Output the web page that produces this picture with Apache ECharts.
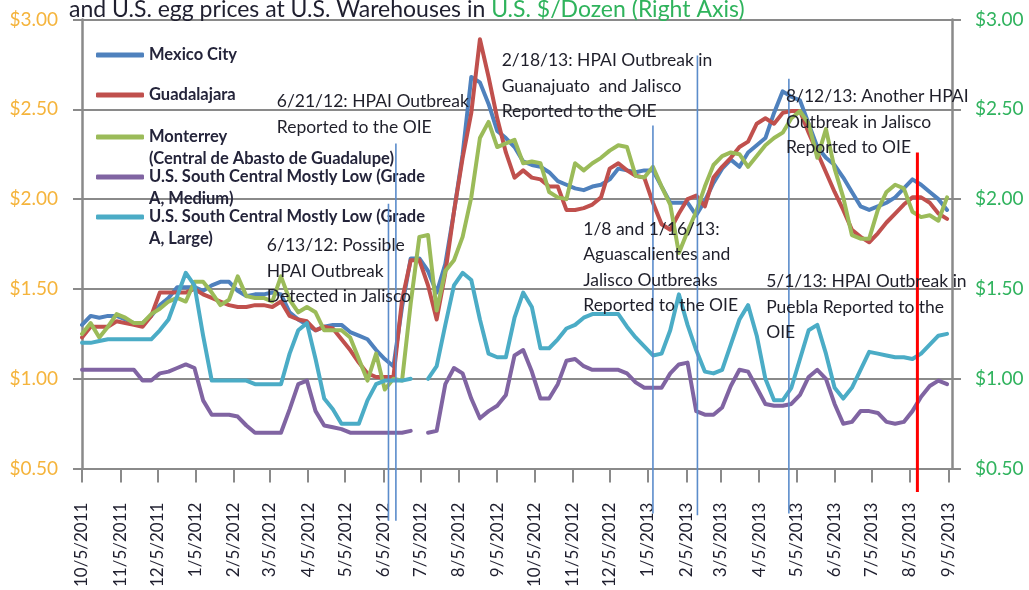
<!DOCTYPE html>
<html>
<head>
<meta charset="utf-8">
<script src="https://cdn.jsdelivr.net/npm/echarts@6/dist/echarts.min.js"></script>
<style>
  html, body { margin: 0; padding: 0; background: #fff; }
  #chart { width: 1029px; height: 590px; }
</style>
</head>
<body>
<div id="chart"></div>
<script>
'use strict';

// weekly observations, first one on 10/5/2011
const startDate = '10/5/2011';
const weekCount = 101;

const tickLabels = ['10/5/2011', '11/5/2011', '12/5/2011', '1/5/2012', '2/5/2012', '3/5/2012',
    '4/5/2012', '5/5/2012', '6/5/2012', '7/5/2012', '8/5/2012', '9/5/2012', '10/5/2012',
    '11/5/2012', '12/5/2012', '1/5/2013', '2/5/2013', '3/5/2013', '4/5/2013', '5/5/2013',
    '6/5/2013', '7/5/2013', '8/5/2013', '9/5/2013'];

const seriesNames = ['Mexico City', 'Guadalajara', 'Monterrey (Central de Abasto de Guadalupe)',
    'U.S. South Central Mostly Low (Grade A, Medium)', 'U.S. South Central Mostly Low (Grade A, Large)'];

const mexicoCity = [
    1.30, 1.35, 1.34, 1.35, 1.35, 1.33, 1.31, 1.31, 1.35, 1.41,
    1.45, 1.51, 1.51, 1.51, 1.49, 1.52, 1.54, 1.54, 1.49, 1.46,
    1.47, 1.47, 1.48, 1.47, 1.37, 1.33, 1.30, 1.27, 1.29, 1.30,
    1.30, 1.26, 1.24, 1.22, 1.16, 1.11, 1.07, 1.40, 1.67, 1.67,
    1.60, 1.48, 1.64, 1.93, 2.25, 2.68, 2.65, 2.53, 2.38, 2.34,
    2.29, 2.21, 2.19, 2.18, 2.15, 2.10, 2.08, 2.06, 2.05, 2.07,
    2.08, 2.11, 2.17, 2.16, 2.15, 2.16, 2.16, 2.07, 1.98, 1.98,
    1.98, 1.91, 1.99, 2.09, 2.17, 2.22, 2.18, 2.26, 2.30, 2.34,
    2.48, 2.60, 2.57, 2.55, 2.42, 2.29, 2.23, 2.19, 2.12, 2.04,
    1.96, 1.94, 1.96, 1.98, 2.01, 2.06, 2.11, 2.08, 2.04, 2.00, 1.94];

const guadalajara = [
    1.23, 1.29, 1.29, 1.29, 1.32, 1.31, 1.30, 1.29, 1.35, 1.48,
    1.48, 1.48, 1.48, 1.50, 1.47, 1.45, 1.43, 1.41, 1.40, 1.40,
    1.41, 1.41, 1.40, 1.43, 1.35, 1.33, 1.32, 1.27, 1.29, 1.28,
    1.22, 1.16, 1.09, 1.03, 1.01, 1.01, 1.01, 1.44, 1.66, 1.66,
    1.52, 1.33, 1.59, 1.93, 2.23, 2.48, 2.89, 2.68, 2.45, 2.26,
    2.12, 2.16, 2.12, 2.11, 2.07, 2.07, 1.94, 1.94, 1.95, 1.97,
    2.01, 2.17, 2.20, 2.16, 2.13, 2.12, 1.98, 1.86, 1.83, 1.92,
    2.00, 2.02, 1.96, 2.12, 2.18, 2.23, 2.29, 2.32, 2.42, 2.45,
    2.42, 2.48, 2.49, 2.49, 2.37, 2.26, 2.15, 2.04, 1.94, 1.83,
    1.79, 1.76, 1.81, 1.87, 1.92, 1.97, 2.01, 2.01, 1.98, 1.92, 1.89];

const monterrey = [
    1.25, 1.31, 1.23, 1.29, 1.36, 1.34, 1.31, 1.31, 1.36, 1.39,
    1.43, 1.45, 1.43, 1.54, 1.54, 1.48, 1.41, 1.44, 1.57, 1.46,
    1.45, 1.45, 1.43, 1.57, 1.44, 1.37, 1.40, 1.37, 1.27, 1.27,
    1.27, 1.23, 1.11, 0.99, 1.14, 0.94, 1.00, 0.99, 1.42, 1.79,
    1.80, 1.38, 1.60, 1.66, 1.79, 2.01, 2.34, 2.43, 2.29, 2.31,
    2.33, 2.20, 2.21, 2.20, 2.04, 2.01, 2.00, 2.20, 2.16, 2.20,
    2.23, 2.27, 2.30, 2.29, 2.13, 2.12, 2.18, 2.07, 1.97, 1.70,
    1.82, 1.93, 2.07, 2.19, 2.24, 2.26, 2.25, 2.18, 2.24, 2.30,
    2.34, 2.37, 2.45, 2.49, 2.42, 2.23, 2.39, 2.17, 2.01, 1.80,
    1.78, 1.78, 1.94, 2.04, 2.08, 2.06, 1.93, 1.90, 1.91, 1.88, 2.01];

const usMedium = [
    1.05, 1.05, 1.05, 1.05, 1.05, 1.05, 1.05, 0.99, 0.99, 1.03,
    1.04, 1.06, 1.08, 1.06, 0.88, 0.80, 0.80, 0.80, 0.79, 0.74,
    0.70, 0.70, 0.70, 0.70, 0.83, 0.97, 0.99, 0.82, 0.74, 0.73,
    0.72, 0.70, 0.70, 0.70, 0.70, 0.70, 0.70, 0.70, 0.71, null,
    0.70, 0.71, 0.97, 1.06, 1.03, 0.89, 0.78, 0.82, 0.85, 0.91,
    1.13, 1.16, 1.04, 0.89, 0.89, 0.97, 1.10, 1.11, 1.07, 1.05,
    1.05, 1.05, 1.05, 1.03, 0.98, 0.95, 0.95, 0.95, 1.03, 1.08,
    1.09, 0.82, 0.80, 0.80, 0.84, 0.96, 1.05, 1.04, 0.95, 0.86,
    0.85, 0.85, 0.86, 0.91, 1.01, 1.05, 1.00, 0.86, 0.75, 0.76,
    0.82, 0.82, 0.81, 0.76, 0.75, 0.76, 0.82, 0.90, 0.96, 0.99, 0.97];

const usLarge = [
    1.20, 1.20, 1.21, 1.22, 1.22, 1.22, 1.22, 1.22, 1.22, 1.27,
    1.33, 1.46, 1.59, 1.52, 1.24, 0.99, 0.99, 0.99, 0.99, 0.99,
    0.97, 0.97, 0.97, 0.97, 1.14, 1.27, 1.31, 1.11, 0.89, 0.83,
    0.75, 0.75, 0.75, 0.88, 0.97, 0.99, 0.99, 0.99, 1.00, null,
    1.00, 1.07, 1.30, 1.52, 1.59, 1.55, 1.33, 1.14, 1.12, 1.12,
    1.34, 1.48, 1.40, 1.17, 1.17, 1.22, 1.28, 1.30, 1.34, 1.36,
    1.36, 1.36, 1.36, 1.29, 1.23, 1.18, 1.13, 1.14, 1.27, 1.47,
    1.30, 1.16, 1.04, 1.03, 1.05, 1.19, 1.33, 1.41, 1.24, 1.00,
    0.88, 0.88, 0.95, 1.11, 1.27, 1.30, 1.14, 0.95, 0.89, 0.95,
    1.05, 1.15, 1.14, 1.13, 1.12, 1.12, 1.11, 1.14, 1.19, 1.24, 1.25];

// hand drawn outbreak markers: date, top and bottom value
const noteLineDates = ['6/9/2012', '6/15/2012', '1/9/2013', '2/14/2013', '4/29/2013', '8/11/2013'];
const noteLineTops = [1.975, 2.31, 2.41, 2.80, 2.67, 2.26];
const noteLineBottoms = [0.21, 0.21, 0.25, 0.24, 0.25, 0.37];

// callout texts, anchored at their top-left corner
const noteTexts = [
    ['6/21/12: HPAI Outbreak', 'Reported to the OIE'],
    ['6/13/12: Possible', 'HPAI Outbreak', 'Detected in Jalisco'],
    ['2/18/13: HPAI Outbreak in', 'Guanajuato  and Jalisco', 'Reported to the OIE'],
    ['1/8 and 1/16/13:', 'Aguascalientes and', 'Jalisco Outbreaks', 'Reported to the OIE'],
    ['8/12/13: Another HPAI', 'Outbreak in Jalisco', 'Reported to OIE'],
    ['5/1/13: HPAI Outbreak in', 'Puebla Reported to the', 'OIE']
];
const noteDates = ['3/11/2012', '3/3/2012', '9/9/2012', '11/14/2012', '4/27/2013', '4/11/2013'];
const noteValues = [2.61, 1.81, 2.84, 1.90, 2.64, 1.61];

const FONT = 'Lato';
const colors = ['#4f81bd', '#c0504d', '#9bbb59', '#8064a2', '#4bacc6'];

const toTime = (s) => {
    const p = s.split('/').map(Number);
    return new Date(p[2], p[0] - 1, p[1]).getTime();
};
const fmtDate = (t) => {
    const d = new Date(Math.round(t));
    return `${d.getMonth() + 1}/${d.getDate()}/${d.getFullYear()}`;
};

const weeks = [];
(function () {
    const s = new Date(toTime(startDate));
    for (let k = 0; k < weekCount; k++) {
        weeks.push(new Date(s.getFullYear(), s.getMonth(), s.getDate() + 7 * k).getTime());
    }
})();
const tickTimes = tickLabels.map(toTime);
const pairUp = (vals) => vals.map((v, i) => [weeks[i], v === null ? '-' : v]);

// wrapped legend entries get an empty first line so the swatch sits on the first text line
const legendText = {
    'Mexico City': 'Mexico City',
    'Guadalajara': 'Guadalajara',
    'Monterrey (Central de Abasto de Guadalupe)': '\nMonterrey\n(Central de Abasto de Guadalupe)',
    'U.S. South Central Mostly Low (Grade A, Medium)': '\nU.S. South Central Mostly Low (Grade\nA, Medium)',
    'U.S. South Central Mostly Low (Grade A, Large)': '\nU.S. South Central Mostly Low (Grade\nA, Large)'
};
const LEG_LH = 21.5;
const legendCenters = [55, 95, 137, 177, 217];
const legendLines = [1, 1, 3, 3, 3];

const dataSets = [mexicoCity, guadalajara, monterrey, usMedium, usLarge];

const series = dataSets.map((vals, i) => ({
    name: seriesNames[i],
    type: 'line',
    data: pairUp(vals),
    symbol: 'none',
    connectNulls: false,
    color: colors[i],
    lineStyle: { width: 4, color: colors[i], cap: 'round', join: 'round' },
    silent: true,
    z: 2 + i
}));

noteLineDates.forEach((d, i) => {
    const isRed = i === noteLineDates.length - 1;
    series.push({
        type: 'line',
        data: [[toTime(d), noteLineTops[i]], [toTime(d), noteLineBottoms[i]]],
        symbol: 'none',
        clip: false,
        silent: true,
        legendHoverLink: false,
        lineStyle: { width: isRed ? 3 : 1.6, color: isRed ? '#ff0000' : '#5b8ccb' },
        z: 8
    });
});

series.push({
    type: 'line',
    data: [],
    silent: true,
    markPoint: {
        symbol: 'rect',
        symbolSize: 1,
        silent: true,
        z: 20,
        itemStyle: { color: 'rgba(0,0,0,0)' },
        label: {
            show: true,
            position: [0, 0],
            align: 'left',
            verticalAlign: 'top',
            fontFamily: FONT,
            fontSize: 17.5,
            lineHeight: 25.5,
            color: '#1f1f2a'
        },
        data: noteTexts.map((lines, i) => ({
            coord: [toTime(noteDates[i]), noteValues[i]],
            label: { formatter: lines.join('\n') }
        }))
    }
});

const chart = echarts.init(document.getElementById('chart'), null, { renderer: 'canvas' });

chart.setOption({
    animation: false,
    backgroundColor: '#ffffff',
    title: {
        left: 69,
        top: -2,
        padding: 0,
        text: '{a|and U.S. egg prices at U.S. Warehouses in }{b|U.S. $/Dozen (Right Axis)}',
        textStyle: {
            fontWeight: 'normal',
            rich: {
                a: { fontFamily: FONT, fontSize: 23, fontWeight: 'normal', color: '#1f1f2f' },
                b: { fontFamily: FONT, fontSize: 23, fontWeight: 'normal', color: '#2fb35c' }
            }
        }
    },
    legend: seriesNames.map((n, i) => ({
        data: [n],
        left: 96,
        top: legendCenters[i] - legendLines[i] * LEG_LH / 2,
        padding: 0,
        orient: 'vertical',
        icon: 'roundRect',
        itemWidth: 48,
        itemHeight: 5,
        selectedMode: false,
        formatter: (name) => legendText[name],
        textStyle: {
            fontFamily: FONT,
            fontSize: 16.5,
            fontWeight: 'bold',
            lineHeight: LEG_LH,
            color: '#24243a'
        }
    })),
    grid: { left: 82, right: 77, top: 19.5, bottom: 113.3 },
    xAxis: {
        type: 'value',
        min: toTime('10/5/2011'),
        max: toTime('9/8/2013'),
        axisLine: { lineStyle: { color: '#8a8a8a', width: 2 } },
        axisTick: {
            show: true,
            length: 14,
            customValues: tickTimes,
            lineStyle: { color: '#8a8a8a', width: 2 }
        },
        splitLine: { show: false },
        axisLabel: {
            customValues: tickTimes,
            rotate: 90,
            margin: 34,
            hideOverlap: false,
            fontFamily: FONT,
            fontSize: 17,
            color: '#1f1f2f',
            formatter: (v) => fmtDate(v)
        }
    },
    yAxis: [{
        type: 'value',
        min: 0.5,
        max: 3,
        interval: 0.5,
        position: 'left',
        axisLine: { show: true, lineStyle: { color: '#8a8a8a', width: 2.5 } },
        axisTick: { show: true, length: 9, lineStyle: { color: '#8a8a8a', width: 2 } },
        splitLine: { show: true, lineStyle: { color: '#8a8a8a', width: 2 } },
        axisLabel: {
            margin: 24,
            fontFamily: FONT,
            fontSize: 19,
            color: '#f5b43c',
            formatter: (v) => '$' + v.toFixed(2)
        }
    }, {
        type: 'value',
        min: 0.5,
        max: 3,
        interval: 0.5,
        position: 'right',
        axisLine: { show: true, lineStyle: { color: '#8a8a8a', width: 2.5 } },
        axisTick: { show: true, length: 9, lineStyle: { color: '#8a8a8a', width: 2 } },
        splitLine: { show: false },
        axisLabel: {
            margin: 23,
            fontFamily: FONT,
            fontSize: 19,
            color: '#30b35e',
            formatter: (v) => '$' + v.toFixed(2)
        }
    }],
    series: series
});
</script>
</body>
</html>
